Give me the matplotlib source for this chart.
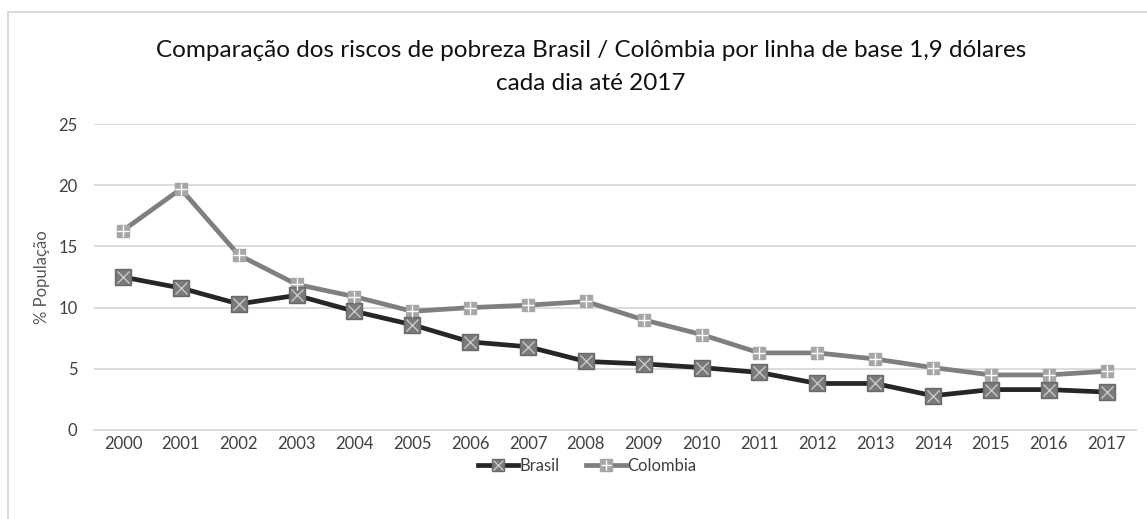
import matplotlib.pyplot as plt
import matplotlib.patches as mpatches
from matplotlib.lines import Line2D

anos = [str(a) for a in range(2000, 2018)]
brasil = [12.5, 11.6, 10.3, 11.0, 9.7, 8.6, 7.2, 6.8, 5.6, 5.4, 5.1, 4.7, 3.8, 3.8, 2.8, 3.3, 3.3, 3.1]
colombia = [16.3, 19.7, 14.3, 11.9, 10.9, 9.7, 10.0, 10.2, 10.5, 9.0, 7.8, 6.3, 6.3, 5.8, 5.1, 4.5, 4.5, 4.8]
yticks = [0, 5, 10, 15, 20, 25]

plt.rcParams['font.family'] = ['Lato', 'DejaVu Sans']

fig = plt.figure(figsize=(11.47, 5.19), dpi=100)
ax = fig.add_axes([0.082, 0.1715, 0.908, 0.5895])

x = list(range(len(anos)))

# linhas
ax.plot(x, colombia, color='#7f7f7f', lw=3.4, zorder=3, solid_joinstyle='round')
ax.plot(x, brasil, color='#262626', lw=3.4, zorder=4, solid_joinstyle='round')

# marcadores: quadrado com cruz branca
ax.plot(x, colombia, ls='none', marker='s', ms=9, mfc='#a6a6a6', mec='#a6a6a6', zorder=5)
ax.plot(x, colombia, ls='none', marker='+', ms=8, mew=1.0, color='white', zorder=6)
ax.plot(x, brasil, ls='none', marker='s', ms=11, mfc='#7a7a7a', mec='#6a6a6a', zorder=5)
ax.plot(x, brasil, ls='none', marker='x', ms=9, mew=0.9, color='#d0d0d0', zorder=6)

ax.set_xlim(-0.5, len(anos) - 0.5)
ax.set_ylim(0, 25)
ax.set_yticks(yticks)
ax.set_xticks(x)
ax.set_xticklabels(anos)
ax.grid(axis='y', color='#d9d9d9', lw=1.3)
ax.set_axisbelow(True)
for s in ['top', 'right', 'left']:
    ax.spines[s].set_visible(False)
ax.spines['bottom'].set_color('#d9d9d9')
ax.spines['bottom'].set_linewidth(1.3)
ax.tick_params(axis='both', length=0, labelsize=12, colors='#404040')
ax.tick_params(axis='y', pad=12)
ax.tick_params(axis='x', pad=4)
ax.set_ylabel('% População', fontsize=12, color='#595959', labelpad=6)

fig.text(0.515, 0.903, 'Comparação dos riscos de pobreza Brasil / Colômbia por linha de base 1,9 dólares',
         ha='center', va='center', fontsize=17.5, color='#111111')
fig.text(0.515, 0.84, 'cada dia até 2017', ha='center', va='center', fontsize=17.5, color='#111111')

# legenda
h_br = (Line2D([], [], color='#262626', lw=3.4),
        Line2D([], [], ls='none', marker='s', ms=9, mfc='#7a7a7a', mec='#6a6a6a'),
        Line2D([], [], ls='none', marker='x', ms=7, mew=0.9, color='#d0d0d0'))
h_co = (Line2D([], [], color='#7f7f7f', lw=3.4),
        Line2D([], [], ls='none', marker='s', ms=8, mfc='#a6a6a6', mec='#a6a6a6'),
        Line2D([], [], ls='none', marker='+', ms=7, mew=1.0, color='white'))
leg = fig.legend([h_br, h_co], ['Brasil', 'Colombia'], loc='center', bbox_to_anchor=(0.512, 0.102),
                 ncol=2, frameon=False, fontsize=12, handlelength=2.4, handletextpad=0.05,
                 columnspacing=1.6)
for t in leg.get_texts():
    t.set_color('#404040')

# borda do gráfico
fig.patches.append(mpatches.Rectangle((8 / 1147, -0.05), 1.1, 1.0 - 12 / 519 + 0.05,
                                      transform=fig.transFigure, fill=False,
                                      edgecolor='#d9d9d9', lw=1.3))

fig.savefig('out.png', dpi=100)
